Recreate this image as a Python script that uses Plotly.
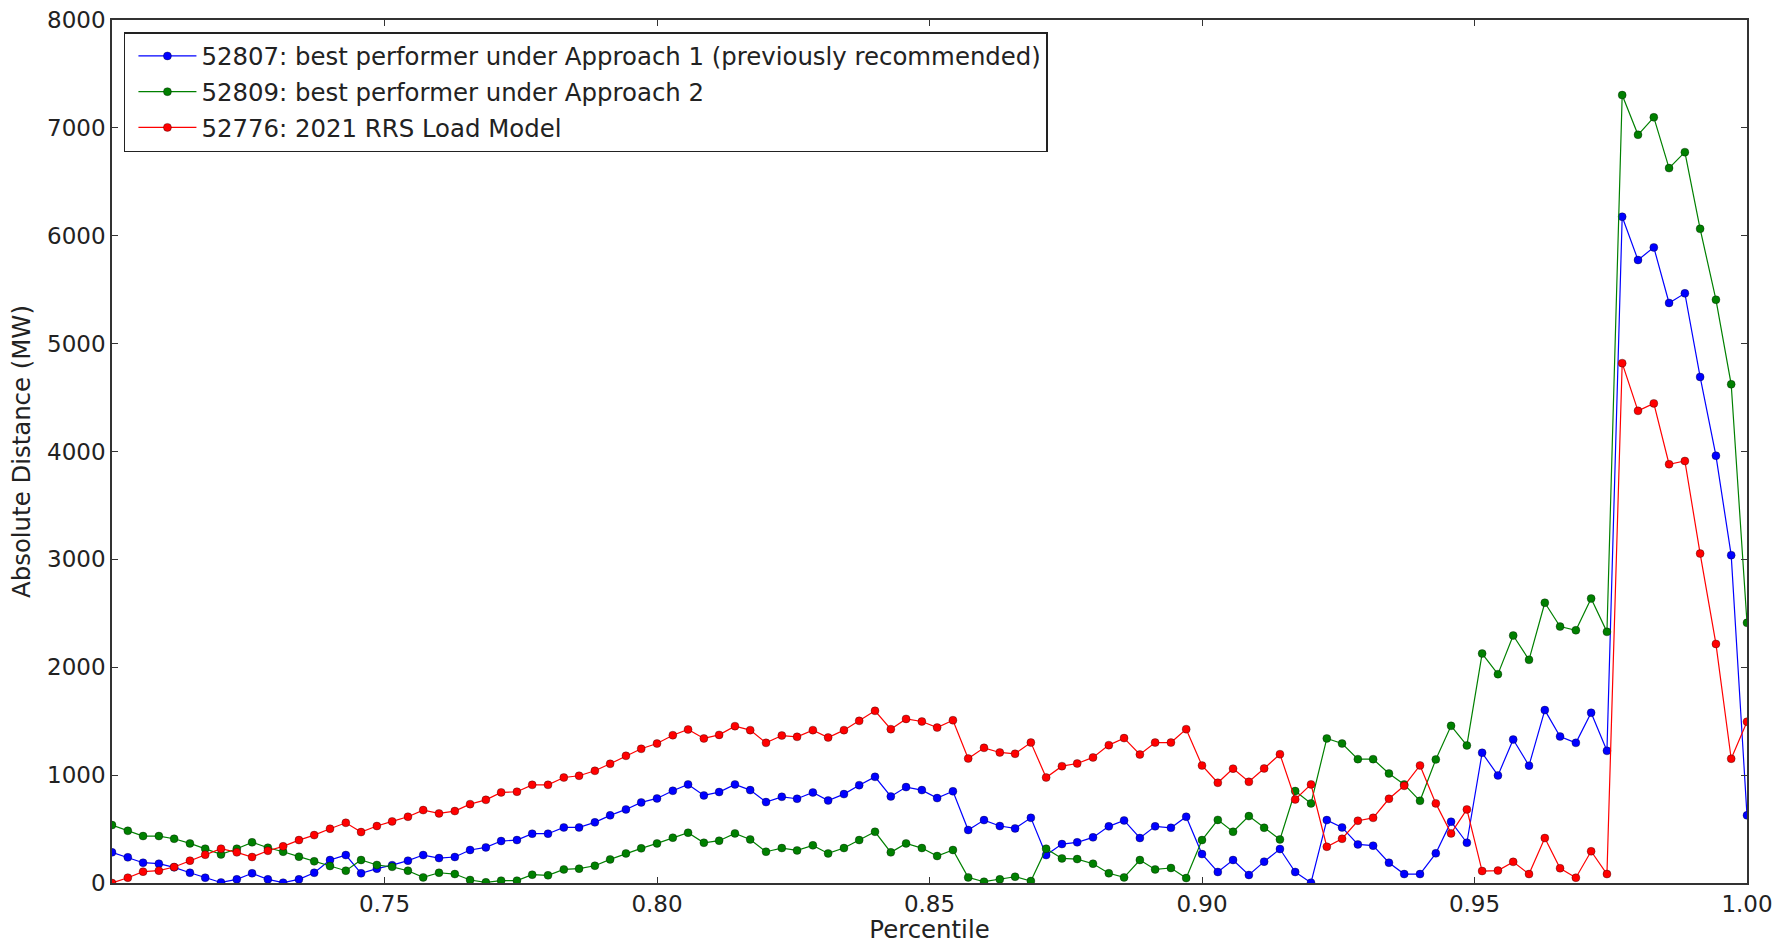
import plotly.graph_objects as go

# Percentile grid (x categories)
percentile = [
    0.7000, 0.7029, 0.7057, 0.7086, 0.7114, 0.7143, 0.7171,
    0.7200, 0.7229, 0.7257, 0.7286, 0.7314, 0.7343, 0.7371,
    0.7400, 0.7429, 0.7457, 0.7486, 0.7514, 0.7543, 0.7571,
    0.7600, 0.7629, 0.7657, 0.7686, 0.7714, 0.7743, 0.7771,
    0.7800, 0.7829, 0.7857, 0.7886, 0.7914, 0.7943, 0.7971,
    0.8000, 0.8029, 0.8057, 0.8086, 0.8114, 0.8143, 0.8171,
    0.8200, 0.8229, 0.8257, 0.8286, 0.8314, 0.8343, 0.8371,
    0.8400, 0.8429, 0.8457, 0.8486, 0.8514, 0.8543, 0.8571,
    0.8600, 0.8629, 0.8657, 0.8686, 0.8714, 0.8743, 0.8771,
    0.8800, 0.8829, 0.8857, 0.8886, 0.8914, 0.8943, 0.8971,
    0.9000, 0.9029, 0.9057, 0.9086, 0.9114, 0.9143, 0.9171,
    0.9200, 0.9229, 0.9257, 0.9286, 0.9314, 0.9343, 0.9371,
    0.9400, 0.9429, 0.9457, 0.9486, 0.9514, 0.9543, 0.9571,
    0.9600, 0.9629, 0.9657, 0.9686, 0.9714, 0.9743, 0.9771,
    0.9800, 0.9829, 0.9857, 0.9886, 0.9914, 0.9943, 0.9971,
    1.0000,
]

# 52807: best performer under Approach 1 (previously recommended)
dist_52807 = [
    284, 238, 188, 179, 145, 95, 49,
    5, 34, 90, 34, 3, 34, 95,
    213, 259, 90, 133, 165, 207, 259,
    231, 241, 306, 330, 389, 398, 457,
    457, 515, 515, 562, 627, 682, 747,
    784, 855, 914, 812, 843, 914, 861,
    750, 799, 781, 839, 765, 824, 907,
    984, 802, 889, 861, 787, 850, 491,
    583, 528, 506, 604, 259, 361, 377,
    423, 525, 580, 417, 525, 512, 614,
    268, 102, 213, 74, 198, 315, 102,
    3, 583, 515, 358, 346, 188, 83,
    83, 275, 568, 373, 1207, 997, 1330,
    1088, 1603, 1358, 1299, 1578, 1225, 6176,
    5775, 5892, 5377, 5466, 4691, 3961, 3039,
    627,
]

# 52809: best performer under Approach 2
dist_52809 = [
    537, 484, 435, 435, 410, 367, 318,
    265, 318, 377, 327, 290, 244, 201,
    157, 114, 213, 167, 150, 114, 52,
    95, 83, 28, 6, 22, 22, 77,
    71, 126, 133, 160, 219, 274, 321,
    367, 420, 466, 373, 392, 460, 404,
    290, 324, 302, 349, 274, 324, 398,
    475, 284, 367, 324, 250, 306, 52,
    12, 34, 58, 18, 318, 228, 222,
    179, 90, 52, 213, 126, 139, 46,
    398, 585, 475, 620, 512, 404, 852,
    738, 1340, 1293, 1148, 1148, 1015, 914,
    762, 1145, 1457, 1275, 2127, 1936, 2294,
    2069, 2598, 2377, 2343, 2637, 2328, 7304,
    6936, 7098, 6627, 6775, 6064, 5407, 4623,
    2412,
]

# 52776: 2021 RRS Load Model
dist_52776 = [
    0, 49, 105, 114, 148, 207, 262,
    318, 284, 241, 299, 340, 398, 444,
    503, 558, 472, 528, 571, 614, 676,
    645, 667, 731, 771, 840, 846, 910,
    910, 978, 994, 1040, 1105, 1179, 1244,
    1293, 1370, 1423, 1340, 1373, 1454, 1417,
    1299, 1367, 1355, 1417, 1349, 1417, 1503,
    1596, 1426, 1521, 1497, 1441, 1509, 1154,
    1253, 1210, 1198, 1302, 978, 1083, 1108,
    1164, 1278, 1343, 1191, 1302, 1302, 1426,
    1089, 929, 1060, 938, 1062, 1194, 775,
    914, 336, 410, 577, 604, 781, 901,
    1090, 738, 460, 682, 111, 115, 196,
    83, 417, 137, 49, 294, 83, 4819,
    4377, 4446, 3882, 3912, 3054, 2216, 1152,
    1495,
]

series_names = [
    "52807: best performer under Approach 1 (previously recommended)",
    "52809: best performer under Approach 2",
    "52776: 2021 RRS Load Model",
]
series_colors = ["#0000ff", "#008000", "#ff0000"]
series_values = [dist_52807, dist_52809, dist_52776]

x_tickvals = [0.75, 0.80, 0.85, 0.90, 0.95, 1.00]
y_tickvals = [0, 1000, 2000, 3000, 4000, 5000, 6000, 7000, 8000]

FONT = "DejaVu Sans"
TXT = "#222222"

fig = go.Figure()
for name, color, vals in zip(series_names, series_colors, series_values):
    fig.add_trace(go.Scatter(
        x=percentile, y=vals, name=name, mode="lines+markers",
        legendgroup=name,
        line=dict(color=color, width=1.2),
        marker=dict(color=color, size=8, line=dict(color="rgba(0,0,0,0.55)", width=0.6)),
    ))

axis_common = dict(
    showline=True, linecolor="#333333", linewidth=1.5, mirror="ticks",
    ticks="inside", ticklen=6, tickwidth=1, tickcolor="#333333",
    showgrid=False, zeroline=False,
    tickfont=dict(family=FONT, size=23, color=TXT),
)

fig.update_layout(
    width=1776, height=944,
    margin=dict(l=112, r=29, t=20, b=61, autoexpand=False),
    paper_bgcolor="white", plot_bgcolor="white",
    font=dict(family=FONT, color=TXT),
    showlegend=True,
    legend=dict(
        x=0.0073, y=0.986, xanchor="left", yanchor="top",
        bordercolor=TXT, borderwidth=1.5, bgcolor="white",
        font=dict(family=FONT, size=24.4, color=TXT),
        tracegroupgap=1, itemwidth=58, indentation=8,
    ),
    xaxis=dict(
        range=[0.70, 1.00], tickvals=x_tickvals, tickformat=".2f",
        title=dict(text="Percentile", font=dict(family=FONT, size=24.4, color=TXT), standoff=8),
        **axis_common,
    ),
    yaxis=dict(
        range=[0, 8000], tickvals=y_tickvals, tickformat="d",
        title=dict(text="Absolute Distance (MW)", font=dict(family=FONT, size=24.4, color=TXT), standoff=10),
        **axis_common,
    ),
)

fig.write_html("out.html", config={"displayModeBar": False},
               post_script="document.body.style.margin='0';")
